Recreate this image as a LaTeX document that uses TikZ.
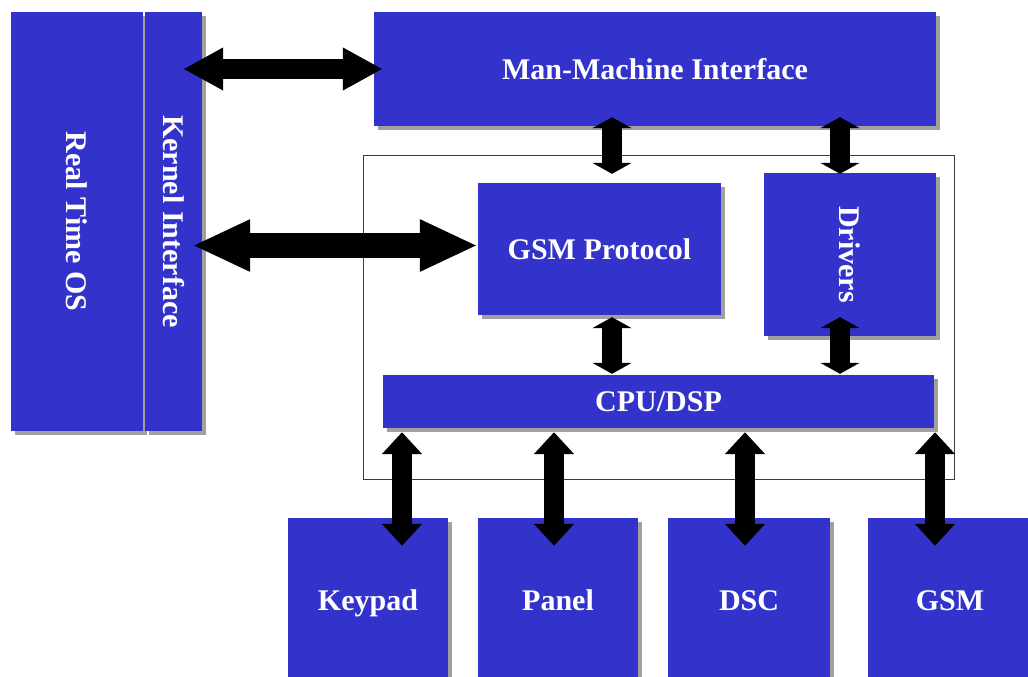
\documentclass[tikz,border=0pt]{standalone}
\usepackage{fontspec}
\setmainfont{Liberation Serif}
\usetikzlibrary{arrows.meta,shadows,calc}
\definecolor{boxblue}{RGB}{51,51,204}
\definecolor{boxshade}{RGB}{160,160,160}
\definecolor{framegray}{RGB}{60,60,60}
\tikzset{
  block/.style={fill=boxblue, draw=none, inner sep=0pt, text=white,
    font=\bfseries\fontsize{30}{36}\selectfont,
    drop shadow={shadow xshift=4pt, shadow yshift=-4pt, fill=boxshade, opacity=1}},
  hlabel/.style={text height=25pt, text depth=5pt},
  link/.style n args={3}{draw=black, line width=#1,
    {Triangle[length=#2,width=#3]}-{Triangle[length=#2,width=#3]}},
  frame/.style={draw=framegray, line width=1pt},
}
\begin{document}
\begin{tikzpicture}[x=1pt,y=-1pt]
  \clip (0,0) rectangle (1028,677);
  \fill[white] (0,0) rectangle (1028,677);

  % enclosure around the processing core
  \draw[frame] (363,155) rectangle (954,479);

  % operating system column
  \node[block, minimum width=132pt, minimum height=419pt] (rtos) at (77,221.5)
    {\rotatebox{-90}{Real Time OS}};
  \node[block, minimum width=57pt, minimum height=419pt] (kern) at (173.5,221.5)
    {\rotatebox{-90}{Kernel Interface}};

  % upper blocks
  \node[block, hlabel, minimum width=562pt, minimum height=114pt] (mmi) at (655,69)
    {Man-Machine Interface};
  \node[block, hlabel, minimum width=243pt, minimum height=132pt] (gsmp) at (599.5,249)
    {GSM Protocol};
  \node[block, minimum width=172pt, minimum height=163pt] (drv) at (850,254.5)
    {\rotatebox{-90}{Drivers}};
  \node[block, hlabel, minimum width=551pt, minimum height=53pt] (cpu) at (658.5,401.5)
    {CPU/DSP};

  % peripherals
  \node[block, hlabel, minimum width=160pt, minimum height=164pt] (key) at (368,600) {Keypad};
  \node[block, hlabel, minimum width=160pt, minimum height=164pt] (pan) at (558,600) {Panel};
  \node[block, hlabel, minimum width=162pt, minimum height=164pt] (dsc) at (749,600) {DSC};
  \node[block, hlabel, minimum width=164pt, minimum height=164pt] (gsm) at (950,600) {GSM};

  % horizontal links
  \draw[link={20pt}{40pt}{40pt}]
    ($(kern.east |- mmi.west)+(-19,0)$) -- ($(mmi.west)+(9,0)$);
  \draw[link={25pt}{58pt}{48pt}]
    ($(kern.east |- gsmp.west)+(-10,-3.5)$) -- ($(gsmp.west)+(0,-3.5)$);

  % vertical links in the core
  \draw[link={20pt}{11pt}{39pt}]
    ($(mmi.south -| 612,0)+(0,-9)$) -- ($(gsmp.north -| 612,0)+(0,-9)$);
  \draw[link={20pt}{11pt}{39pt}]
    ($(mmi.south -| 840,0)+(0,-9)$) -- ($(drv.north -| 840,0)+(0,1)$);
  \draw[link={20pt}{11pt}{39pt}]
    ($(gsmp.south -| 612,0)+(0,2)$) -- ($(cpu.north -| 612,0)+(0,-1)$);
  \draw[link={20pt}{11pt}{39pt}]
    ($(drv.south -| 840,0)+(0,-19)$) -- ($(cpu.north -| 840,0)+(0,-1)$);

  % links to the peripherals
  \draw[link={20pt}{22pt}{39pt}]
    ($(cpu.south -| 402,0)+(0,4)$) -- ($(key.north -| 402,0)+(0,28)$);
  \draw[link={20pt}{22pt}{39pt}]
    ($(cpu.south -| 554,0)+(0,4)$) -- ($(pan.north -| 554,0)+(0,28)$);
  \draw[link={20pt}{22pt}{39pt}]
    ($(cpu.south -| 745,0)+(0,4)$) -- ($(dsc.north -| 745,0)+(0,28)$);
  \draw[link={20pt}{22pt}{39pt}]
    ($(cpu.south -| 935,0)+(0,4)$) -- ($(gsm.north -| 935,0)+(0,28)$);
\end{tikzpicture}
\end{document}
